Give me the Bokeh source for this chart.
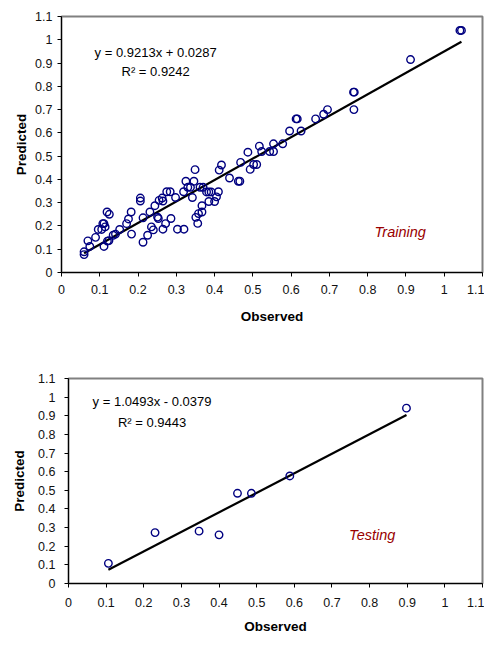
import numpy as np
from bokeh.plotting import figure
from bokeh.models import Range1d, FixedTicker, Label
from bokeh.embed import file_html
from bokeh.resources import INLINE

# ---------------- data ----------------
train_observed = [
    0.059, 0.059, 0.069, 0.074, 0.089, 0.096, 0.105, 0.108, 0.111, 0.114,
    0.111, 0.119, 0.125, 0.120, 0.124, 0.135, 0.141, 0.152, 0.170, 0.175,
    0.182, 0.183, 0.206, 0.206, 0.213, 0.213, 0.225, 0.231, 0.235, 0.240,
    0.244, 0.251, 0.253, 0.255, 0.263, 0.265, 0.265, 0.275, 0.284, 0.272,
    0.286, 0.298, 0.303, 0.320, 0.319, 0.325, 0.330, 0.337, 0.342, 0.346,
    0.349, 0.351, 0.356, 0.358, 0.362, 0.370, 0.367, 0.367, 0.379, 0.385,
    0.391, 0.385, 0.400, 0.405, 0.410, 0.412, 0.418, 0.439, 0.462, 0.466,
    0.468, 0.487, 0.493, 0.502, 0.510, 0.517, 0.523, 0.544, 0.554, 0.554,
    0.578, 0.596, 0.613, 0.616, 0.626, 0.664, 0.685, 0.695, 0.763, 0.765,
    0.764, 0.912, 1.041, 1.045,
]
train_predicted = [
    0.089, 0.077, 0.136, 0.112, 0.151, 0.185, 0.185, 0.210, 0.210, 0.196,
    0.112, 0.260, 0.250, 0.135, 0.137, 0.160, 0.165, 0.185, 0.210, 0.230,
    0.260, 0.165, 0.320, 0.307, 0.130, 0.235, 0.160, 0.260, 0.196, 0.183,
    0.287, 0.238, 0.232, 0.310, 0.320, 0.307, 0.186, 0.347, 0.347, 0.210,
    0.232, 0.322, 0.186, 0.186, 0.347, 0.392, 0.366, 0.366, 0.322, 0.392,
    0.442, 0.237, 0.211, 0.253, 0.366, 0.366, 0.260, 0.287, 0.346, 0.346,
    0.346, 0.305, 0.305, 0.325, 0.347, 0.440, 0.462, 0.406, 0.392, 0.392,
    0.473, 0.517, 0.443, 0.464, 0.464, 0.543, 0.520, 0.520, 0.520, 0.553,
    0.553, 0.608, 0.660, 0.660, 0.608, 0.660, 0.680, 0.700, 0.775, 0.775,
    0.700, 0.915, 1.040, 1.040,
]
train_slope, train_intercept = 0.9213, 0.0287
train_eq = "y = 0.9213x + 0.0287"
train_r2 = "R\u00b2 = 0.9242"

test_observed = [0.106, 0.230, 0.347, 0.400, 0.449, 0.486, 0.588, 0.898]
test_predicted = [0.108, 0.273, 0.281, 0.261, 0.484, 0.484, 0.577, 0.941]
test_slope, test_intercept = 1.0493, -0.0379
test_eq = "y = 1.0493x - 0.0379"
test_r2 = "R\u00b2 = 0.9443"

tick_values = [0.0, 0.1, 0.2, 0.3, 0.4, 0.5, 0.6, 0.7, 0.8, 0.9, 1.0, 1.1]
tick_labels = ["0", "0.1", "0.2", "0.3", "0.4", "0.5", "0.6", "0.7", "0.8", "0.9", "1", "1.1"]

FONT = "Liberation Sans"


def make_chart(obs, pred, slope, intercept, eq, r2, tag, tag_pos, eq_pos,
               frame_w, frame_h, borders, xl_standoff, xa_standoff, yl_standoff, ya_standoff):
    top, right, bottom, left = borders
    p = figure(frame_width=frame_w, frame_height=frame_h,
               output_backend="svg", toolbar_location=None,
               x_range=Range1d(0, 1.1), y_range=Range1d(0, 1.1),
               min_border_top=top, min_border_right=right,
               min_border_bottom=bottom, min_border_left=left)
    p.grid.visible = False
    p.outline_line_color = "#808080"
    p.outline_line_width = 2
    p.background_fill_color = "white"
    p.border_fill_color = "white"

    overrides = {v: s for v, s in zip(tick_values, tick_labels)}
    for ax in (p.xaxis[0], p.yaxis[0]):
        ax.ticker = FixedTicker(ticks=tick_values, minor_ticks=[])
        ax.major_label_overrides = overrides
        ax.axis_line_color = "black"
        ax.axis_line_width = 1
        ax.major_tick_line_color = "black"
        ax.major_tick_in = 0
        ax.major_tick_out = 4
        ax.minor_tick_line_color = None
        ax.major_label_text_font = FONT
        ax.major_label_text_font_size = "12.5px"
        ax.major_label_text_color = "#111111"
        ax.axis_label_text_font = FONT
        ax.axis_label_text_font_size = "13.5px"
        ax.axis_label_text_font_style = "bold"
        ax.axis_label_text_color = "black"

    p.xaxis.axis_label = "Observed"
    p.yaxis.axis_label = "Predicted"
    p.xaxis.major_label_standoff = xl_standoff
    p.xaxis.axis_label_standoff = xa_standoff
    p.yaxis.major_label_standoff = yl_standoff
    p.yaxis.axis_label_standoff = ya_standoff

    # regression line
    xs = np.array([min(obs), max(obs)])
    p.line(xs, slope * xs + intercept, line_color="black", line_width=2.2)

    # points
    p.scatter(obs, pred, marker="circle", size=7.5, fill_color=None,
              line_color="#000080", line_width=1.4)

    ex, ey1, ey2 = eq_pos
    p.add_layout(Label(x=ex, y=ey1, text=eq, text_align="center", text_baseline="middle",
                       text_font=FONT, text_font_size="13px", text_color="black"))
    p.add_layout(Label(x=ex, y=ey2, text=r2, text_align="center", text_baseline="middle",
                       text_font=FONT, text_font_size="13px", text_color="black"))
    tx, ty = tag_pos
    p.add_layout(Label(x=tx, y=ty, text=tag, text_align="center", text_baseline="middle",
                       text_font=FONT, text_font_size="14.5px", text_font_style="italic",
                       text_color="#990000"))
    return p


# top figure: 61 + 421 + 2 = 484 wide, 16 + 256 + 56 = 328 tall
p1 = make_chart(train_observed, train_predicted, train_slope, train_intercept,
                train_eq, train_r2, "Training", (0.885, 0.176), (0.246, 0.945, 0.865),
                421, 256, (16, 2, 56, 61), 8, 12, 5, 3)
# bottom figure: 68 + 414 + 2 = 484 wide, 50 + 205 + 53 = 308 tall
p2 = make_chart(test_observed, test_predicted, test_slope, test_intercept,
                test_eq, test_r2, "Testing", (0.807, 0.26), (0.222, 0.974, 0.865),
                414, 205, (50, 2, 53, 68), 10, 9, 9, 8)

# two independent roots stacked on the page (no frame alignment between them)
with open("out.html", "w") as f:
    f.write(file_html([p1, p2], INLINE))
